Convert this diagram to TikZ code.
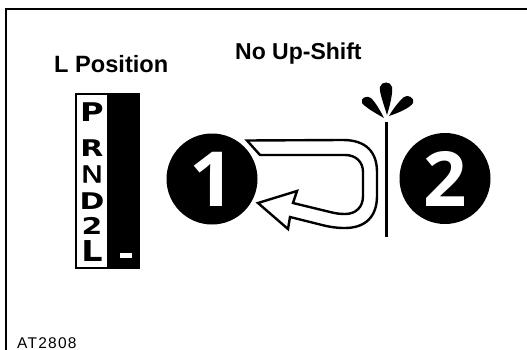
\documentclass[tikz,border=0pt]{standalone}
\usepackage{fontspec}
\setmainfont{Liberation Sans}
\newfontfamily\widefont{DejaVu Sans}
\newfontfamily\midfont[FakeBold=1.5]{DejaVu Sans}
\newfontfamily\digitfont{Open Sans}
\tikzset{
  frameline/.style={line width=2pt,black},
  gearletter/.style={inner sep=0pt,font=\widefont\bfseries\fontsize{23}{23}\selectfont,black},
  badge/.style={circle,fill=black,text=white,minimum size=91pt,inner sep=0pt,font=\digitfont\bfseries\fontsize{76}{76}\selectfont},
  petal/.style={fill=black,draw=none},
  title/.style={inner sep=0pt,anchor=base west,black},
}
\begin{document}
\begin{tikzpicture}[x=1pt,y=-1pt]
\useasboundingbox (0,0) rectangle (527,350);
% frame
\draw[frameline] (527,9) -- (6,9) -- (6,350);
% titles
\node[title,font=\bfseries\fontsize{23.6}{24}\selectfont] (ltitle) at (54,73) {L Position};
\node[title,font=\bfseries\fontsize{23}{24}\selectfont] (ntitle) at (235,60) {No Up-Shift};
\node[title,font=\fontsize{15.5}{16}\selectfont] (code) at (17,348) {\addfontfeatures{LetterSpace=8}AT2808};
% selector
\draw[line width=2pt,fill=white] (76,94) rectangle (139,268);
\fill[black] (107,93) rectangle (140,269);
\fill[white] (120,253) rectangle (132,258);
\node[gearletter] (p) at (92,112.5) {\scalebox{1.4}[1.12]{P}};
\node[gearletter] (r) at (92,148) {\scalebox{1.3}[1]{R}};
\node[gearletter,font=\midfont\fontsize{23}{23}\selectfont] (n) at (92,174) {\scalebox{1.3}[1]{N}};
\node[gearletter] (d) at (92,201) {\scalebox{1.3}[1]{D}};
\node[gearletter] (two) at (92,226) {\scalebox{1.3}[1]{2}};
\node[gearletter] (l) at (92,251) {\scalebox{1.45}[1.25]{L}};
% badges
\node[badge] (one) at (212,179) {\scalebox{1.05}[1]{1}};
\node[badge] (second) at (445,178.5) {\scalebox{1}[1]{2}};
% U-turn arrow
\draw[line width=2.4pt,line join=miter,fill=white]
  (247,140.5) -- (343,140) .. controls (366,140) and (377,152) .. (377,172)
  -- (377,196) .. controls (377,217) and (365,228) .. (345,228)
  .. controls (336,228) and (330,227) .. (322,225)
  -- (290,217) -- (288,229) -- (258,203) -- (297,191) -- (293,203)
  -- (330,212) .. controls (336,213.5) and (340,214) .. (345,214)
  .. controls (356,214) and (363,207) .. (363,196)
  -- (363,172) .. controls (363,162) and (356,155) .. (345,155)
  -- (260,155) -- cycle;
% shift lever
\draw[line width=3pt] (386,122) -- (386,237);
\fill[petal] (387,115) .. controls (384,105) and (379,92) .. (380,87)
  .. controls (381,81) and (391,81) .. (392,87)
  .. controls (393,93) and (390,105) .. (387,115) -- cycle;
\fill[petal] (384,118) .. controls (375,113) and (365,107) .. (362,103)
  .. controls (360,98) and (367,95) .. (371,98)
  .. controls (375,102) and (380,110) .. (384,118) -- cycle;
\fill[petal] (389,116) .. controls (398,113) and (410,108) .. (413,103)
  .. controls (415,98) and (408,94) .. (404,97)
  .. controls (400,100) and (393,109) .. (389,116) -- cycle;
\end{tikzpicture}
\end{document}
